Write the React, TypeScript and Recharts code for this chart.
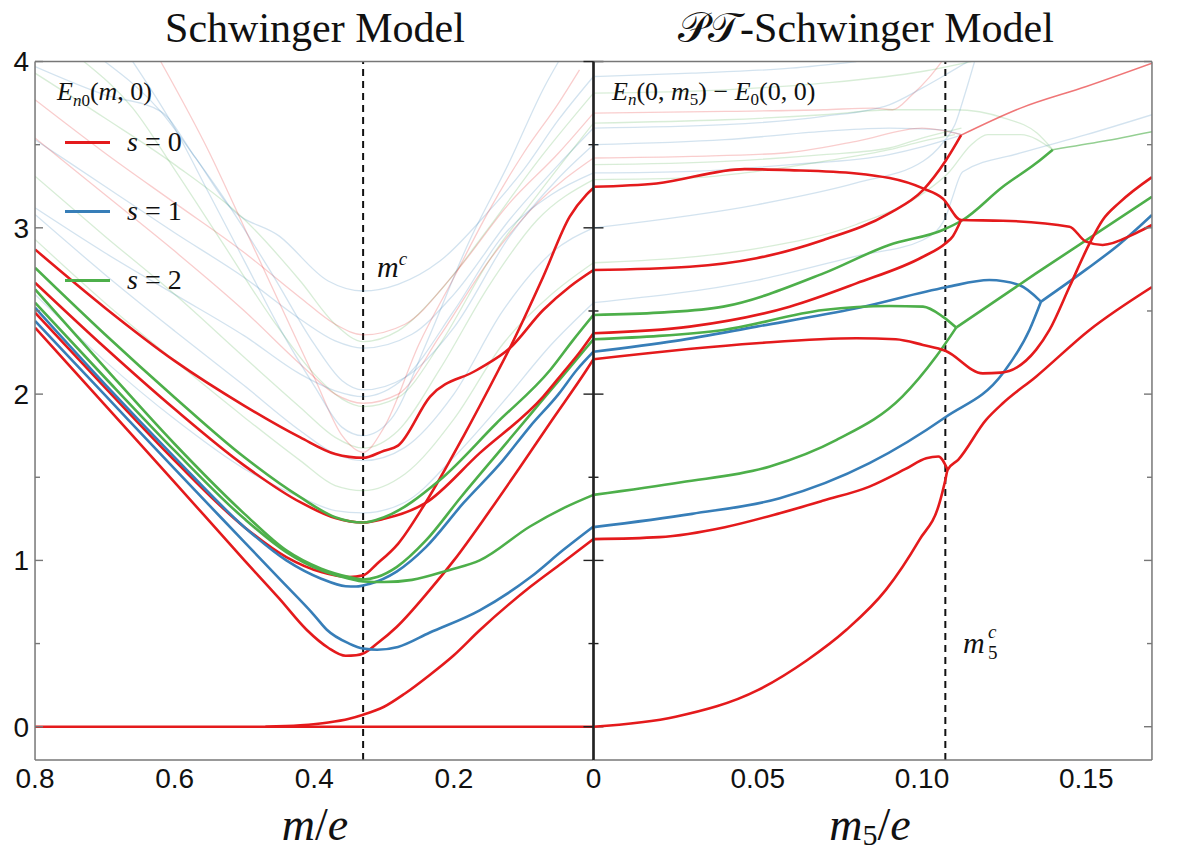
import React from "react";
import { LineChart, Line, XAxis, YAxis, ReferenceLine } from "recharts";

type Pt = [number, number];

// ---------- left panel: E_n0(m,0) vs m/e (axis runs 0.8 -> 0) ----------
const leftRedZero: Pt[] = [[0.8, 0], [0.4, 0], [0, 0]];
const leftRedBranch: Pt[] = [[0.47, 0.0], [0.42, 0.008], [0.38, 0.025], [0.35, 0.048], [0.33, 0.072], [0.3, 0.12], [0.27, 0.2], [0.235, 0.31], [0.2, 0.43], [0.163, 0.58], [0.09, 0.843], [0.045, 0.985], [0, 1.128]];
const leftRed1: Pt[] = [[0.8, 2.4], [0.7, 1.935], [0.6, 1.47], [0.5, 1.0], [0.45, 0.77], [0.411, 0.583], [0.38, 0.475], [0.355, 0.427], [0.34, 0.43], [0.33, 0.44], [0.31, 0.5], [0.282, 0.6], [0.235, 0.82], [0.2, 1.0], [0.15, 1.29], [0.108, 1.544], [0.06, 1.84], [0.01, 2.145], [0, 2.21]];
const leftBlue1: Pt[] = [[0.8, 2.44], [0.7, 1.995], [0.6, 1.55], [0.5, 1.11], [0.45, 0.89], [0.4, 0.67], [0.382, 0.583], [0.35, 0.5], [0.33, 0.47], [0.31, 0.463], [0.28, 0.48], [0.235, 0.565], [0.163, 0.7], [0.09, 0.9], [0.043, 1.064], [0, 1.204]];
const leftRed2: Pt[] = [[0.8, 2.49], [0.7, 2.04], [0.6, 1.6], [0.5, 1.2], [0.44, 1.02], [0.39, 0.93], [0.35, 0.9], [0.33, 0.91], [0.31, 0.98], [0.28, 1.1], [0.241, 1.344], [0.1865, 1.745], [0.136, 2.145], [0.12, 2.276], [0.072, 2.706], [0.034, 3.067], [0.01, 3.2], [0, 3.24]];
const leftBlue2: Pt[] = [[0.8, 2.52], [0.7, 2.06], [0.6, 1.62], [0.5, 1.2], [0.44, 1.0], [0.39, 0.89], [0.355, 0.845], [0.34, 0.843], [0.32, 0.86], [0.282, 0.933], [0.24, 1.08], [0.1865, 1.344], [0.13, 1.6], [0.091, 1.805], [0.05, 2.0], [0.024, 2.145], [0, 2.255]];
const leftGreen1: Pt[] = [[0.8, 2.55], [0.7, 2.1], [0.6, 1.66], [0.5, 1.25], [0.44, 1.05], [0.39, 0.94], [0.35, 0.89], [0.33, 0.873], [0.3, 0.87], [0.26, 0.883], [0.206, 0.943], [0.163, 1.0], [0.091, 1.204], [0.04, 1.32], [0, 1.394]];
const leftGreen2: Pt[] = [[0.8, 2.63], [0.7, 2.16], [0.6, 1.7], [0.5, 1.28], [0.44, 1.06], [0.39, 0.95], [0.35, 0.9], [0.33, 0.885], [0.31, 0.9], [0.282, 0.96], [0.24, 1.12], [0.19, 1.38], [0.13, 1.68], [0.09, 1.88], [0.05, 2.08], [0.02, 2.23], [0, 2.33]];
const leftRed3: Pt[] = [[0.8, 2.67], [0.7, 2.28], [0.6, 1.91], [0.5, 1.57], [0.42, 1.35], [0.37, 1.255], [0.33, 1.228], [0.3, 1.25], [0.241, 1.344], [0.163, 1.645], [0.072, 1.985], [0.044, 2.127], [0.02, 2.25], [0, 2.366]];
const leftGreen3: Pt[] = [[0.8, 2.76], [0.7, 2.36], [0.6, 1.98], [0.5, 1.62], [0.42, 1.38], [0.37, 1.26], [0.33, 1.228], [0.3, 1.26], [0.22, 1.484], [0.139, 1.825], [0.062, 2.145], [0.03, 2.32], [0, 2.476]];
const leftRed4: Pt[] = [[0.8, 2.87], [0.7, 2.52], [0.6, 2.2], [0.5, 1.93], [0.42, 1.74], [0.37, 1.64], [0.33, 1.617], [0.3, 1.66], [0.28, 1.69], [0.234, 1.985], [0.167, 2.145], [0.12, 2.276], [0.072, 2.506], [0.034, 2.646], [0, 2.746]];

// faint higher levels
const leftFaintB1: Pt[] = [[0.8, 3.97], [0.7, 3.8], [0.62, 3.7], [0.57, 3.42], [0.52, 3.12], [0.45, 2.95], [0.38, 2.68], [0.33, 2.62], [0.28, 2.66], [0.22, 2.8], [0.15, 3.1], [0.1, 3.35], [0.05, 3.65], [0, 3.91]];
const leftFaintG1: Pt[] = [[0.8, 3.93], [0.7, 3.66], [0.6, 3.38], [0.5, 3.05], [0.42, 2.68], [0.37, 2.42], [0.33, 2.316], [0.28, 2.38], [0.22, 2.62], [0.15, 3.0], [0.08, 3.4], [0, 3.81]];
const leftFaintR1: Pt[] = [[0.8, 3.77], [0.7, 3.45], [0.6, 3.15], [0.5, 2.85], [0.42, 2.58], [0.37, 2.42], [0.33, 2.356], [0.27, 2.42], [0.2, 2.72], [0.12, 3.15], [0.05, 3.45], [0, 3.69]];
const leftFaintB2: Pt[] = [[0.8, 3.53], [0.7, 3.25], [0.6, 2.97], [0.5, 2.7], [0.42, 2.45], [0.37, 2.32], [0.33, 2.277], [0.26, 2.36], [0.2, 2.6], [0.12, 3.05], [0.05, 3.38], [0, 3.6]];
const leftFaintG2: Pt[] = [[0.73, 4.0], [0.66, 3.72], [0.6, 3.35], [0.53, 2.9], [0.46, 2.45], [0.4, 2.12], [0.36, 1.97], [0.33, 1.925], [0.28, 1.98], [0.22, 2.3], [0.15, 2.8], [0.08, 3.2], [0, 3.63]];
const leftFaintB3: Pt[] = [[0.7, 4.0], [0.62, 3.7], [0.57, 3.42], [0.52, 3.12], [0.46, 2.72], [0.4, 2.3], [0.36, 2.08], [0.33, 2.025], [0.27, 2.1], [0.2, 2.4], [0.12, 2.95], [0.05, 3.3], [0, 3.5]];
const leftFaintR2: Pt[] = [[0.8, 3.54], [0.7, 3.2], [0.6, 2.86], [0.5, 2.5], [0.42, 2.18], [0.37, 2.0], [0.33, 1.945], [0.28, 2.0], [0.22, 2.35], [0.15, 2.8], [0.08, 3.15], [0, 3.42]];
const leftFaintB4: Pt[] = [[0.8, 3.12], [0.7, 2.85], [0.6, 2.6], [0.5, 2.35], [0.42, 2.12], [0.37, 2.02], [0.33, 1.985], [0.27, 2.1], [0.2, 2.5], [0.13, 2.95], [0.06, 3.2], [0, 3.33]];
const leftFaintG3: Pt[] = [[0.8, 3.31], [0.7, 2.95], [0.6, 2.6], [0.5, 2.22], [0.42, 1.92], [0.37, 1.74], [0.33, 1.675], [0.28, 1.78], [0.22, 2.15], [0.15, 2.65], [0.08, 3.05], [0, 3.29]];
const leftFaintB5: Pt[] = [[0.8, 3.08], [0.7, 2.72], [0.6, 2.38], [0.5, 2.05], [0.42, 1.78], [0.37, 1.64], [0.33, 1.6], [0.27, 1.68], [0.2, 2.0], [0.13, 2.5], [0.06, 2.85], [0, 3.0]];
const leftFaintR3: Pt[] = [[0.62, 4.0], [0.55, 3.45], [0.5, 3.0], [0.45, 2.55], [0.4, 2.1], [0.36, 1.75], [0.33, 1.65], [0.3, 1.8], [0.25, 2.3], [0.2, 2.7], [0.15, 3.1], [0.1, 3.45], [0.05, 3.75], [0.02, 3.95]];
const leftFaintG4: Pt[] = [[0.8, 2.93], [0.7, 2.55], [0.6, 2.2], [0.5, 1.86], [0.42, 1.6], [0.37, 1.45], [0.33, 1.42], [0.27, 1.52], [0.2, 1.85], [0.13, 2.3], [0.06, 2.6], [0, 2.79]];
const leftFaintB6: Pt[] = [[0.8, 2.6], [0.7, 2.2], [0.6, 1.85], [0.5, 1.55], [0.42, 1.38], [0.37, 1.3], [0.33, 1.286], [0.27, 1.35], [0.2, 1.62], [0.13, 1.95], [0.06, 2.3], [0, 2.55]];
const leftFaintB7: Pt[] = [[0.66, 4.0], [0.6, 3.6], [0.55, 3.2], [0.5, 2.8], [0.45, 2.4], [0.4, 2.05], [0.36, 1.8], [0.33, 1.75], [0.29, 1.85], [0.24, 2.3], [0.18, 2.9], [0.12, 3.4], [0.07, 3.85], [0.05, 4.0]];

// ---------- right panel: E_n(0,m5) - E_0(0,0) vs m5/e ----------
const rightRed0: Pt[] = [[0, 0], [0.025, 0.06], [0.05, 0.22], [0.065, 0.4], [0.077, 0.583], [0.089, 0.823], [0.0992, 1.124], [0.1053, 1.344], [0.1071, 1.484], [0.1078, 1.545], [0.111, 1.605], [0.1195, 1.845], [0.1246, 1.945], [0.1347, 2.105], [0.151, 2.386], [0.17, 2.644]];
const rightRed1: Pt[] = [[0, 1.128], [0.02, 1.14], [0.04, 1.2], [0.0567, 1.284], [0.07, 1.36], [0.084, 1.444], [0.095, 1.55], [0.1013, 1.615], [0.105, 1.625], [0.1078, 1.545]];
const rightBlue1: Pt[] = [[0, 1.2], [0.03, 1.28], [0.0567, 1.374], [0.084, 1.585], [0.1071, 1.861], [0.1246, 2.125], [0.1327, 2.386], [0.1362, 2.556]];
const rightBlue2: Pt[] = [[0, 2.255], [0.025, 2.32], [0.0496, 2.406], [0.08, 2.516], [0.1074, 2.643], [0.1205, 2.686], [0.1296, 2.656], [0.1362, 2.556]];
const rightBlueMerged: Pt[] = [[0.1362, 2.556], [0.15, 2.75], [0.16, 2.9], [0.17, 3.077]];
const rightGreen1: Pt[] = [[0, 1.394], [0.0267, 1.47], [0.0537, 1.565], [0.074, 1.725], [0.094, 1.985], [0.1043, 2.226], [0.1104, 2.4]];
const rightGreen2: Pt[] = [[0, 2.33], [0.02, 2.35], [0.0395, 2.386], [0.07, 2.506], [0.09, 2.53], [0.1003, 2.526], [0.1063, 2.466], [0.1104, 2.4]];
const rightGreenMerged: Pt[] = [[0.1104, 2.4], [0.1347, 2.726], [0.17, 3.187]];
const rightGreen3: Pt[] = [[0, 2.476], [0.02, 2.49], [0.0395, 2.526], [0.07, 2.726], [0.09, 2.897], [0.1063, 2.987], [0.1124, 3.047], [0.1246, 3.247], [0.1347, 3.388], [0.1398, 3.47]];
const rightGreen3Tail: Pt[] = [[0.1398, 3.47], [0.155, 3.52], [0.17, 3.578]];
const rightRed2: Pt[] = [[0, 2.21], [0.0496, 2.306], [0.08, 2.336], [0.092, 2.33], [0.1003, 2.296], [0.1071, 2.261], [0.1185, 2.125], [0.124, 2.129], [0.1347, 2.266], [0.1388, 2.386], [0.145, 2.65], [0.151, 2.906], [0.155, 3.047], [0.16, 3.15], [0.17, 3.305]];
const rightRed5: Pt[] = [[0, 2.366], [0.0293, 2.406], [0.0597, 2.526], [0.08, 2.666], [0.1003, 2.826], [0.1071, 2.906], [0.1094, 2.95], [0.1119, 3.047]];
const rightRed3: Pt[] = [[0, 3.247], [0.0192, 3.267], [0.046, 3.353], [0.0597, 3.347], [0.08, 3.327], [0.1003, 3.237], [0.1063, 3.177], [0.1119, 3.047], [0.1246, 3.043], [0.1449, 3.007], [0.1499, 2.917], [0.155, 2.897], [0.165, 2.967], [0.17, 3.017]];
const rightRed4: Pt[] = [[0, 2.746], [0.0293, 2.766], [0.0496, 2.817], [0.07, 2.927], [0.09, 3.087], [0.1003, 3.227], [0.1071, 3.4], [0.1119, 3.557]];
const rightRed4Tail: Pt[] = [[0.1119, 3.557], [0.13, 3.72], [0.15, 3.85], [0.17, 3.99]];

const rightFaintB1: Pt[] = [[0, 3.91], [0.03, 3.93], [0.06, 3.96], [0.08, 4.0]];
const rightFaintG1: Pt[] = [[0, 3.81], [0.04, 3.83], [0.07, 3.87], [0.1, 3.94], [0.115, 4.0]];
const rightFaintR1: Pt[] = [[0, 3.69], [0.04, 3.7], [0.07, 3.71], [0.085, 3.72], [0.091, 3.71], [0.097, 3.8], [0.102, 3.9], [0.106, 4.0]];
const rightFaintG2: Pt[] = [[0, 3.63], [0.04, 3.65], [0.07, 3.68], [0.091, 3.71], [0.11, 3.71], [0.125, 3.66], [0.135, 3.57], [0.1398, 3.47]];
const rightFaintB2: Pt[] = [[0, 3.6], [0.04, 3.62], [0.07, 3.67], [0.09, 3.74], [0.1, 3.84], [0.108, 3.93], [0.114, 4.0]];
const rightFaintB3: Pt[] = [[0, 3.5], [0.04, 3.53], [0.07, 3.58], [0.09, 3.6], [0.105, 3.59], [0.112, 3.56]];
const rightFaintR2: Pt[] = [[0, 3.42], [0.03, 3.43], [0.058, 3.45], [0.08, 3.52], [0.1, 3.6], [0.112, 3.56]];
const rightFaintG3: Pt[] = [[0, 3.38], [0.04, 3.4], [0.07, 3.44], [0.09, 3.48], [0.1, 3.54], [0.112, 3.6]];
const rightFaintB4: Pt[] = [[0, 3.33], [0.03, 3.34], [0.06, 3.38], [0.09, 3.44], [0.1003, 3.488], [0.112, 3.557]];
const rightFaintG4: Pt[] = [[0, 3.29], [0.03, 3.3], [0.046, 3.33], [0.07, 3.4], [0.09, 3.47], [0.1, 3.52], [0.11, 3.56]];
const rightFaintB5: Pt[] = [[0, 3.0], [0.05, 3.14], [0.08, 3.27], [0.1003, 3.4], [0.1063, 3.51], [0.11, 3.62], [0.113, 3.8], [0.116, 4.0]];
const rightFaintG5: Pt[] = [[0, 2.79], [0.05, 2.876], [0.08, 3.02], [0.1003, 3.207], [0.108, 3.33], [0.115, 3.5], [0.12, 3.56], [0.13, 3.56], [0.1398, 3.47]];
const rightFaintB6: Pt[] = [[0, 2.55], [0.05, 2.686], [0.08, 2.83], [0.1003, 2.927], [0.1071, 3.06], [0.109, 3.167], [0.1124, 3.337], [0.13, 3.45], [0.15, 3.56], [0.17, 3.68]];

// ---------- axis ticks ----------
const leftXTicks = [0, 0.2, 0.4, 0.6, 0.8];
const leftXInnerTicks = [0.2, 0.4, 0.6];
const rightXTicks = [0, 0.05, 0.1, 0.15];
const rightXInnerTicks = [0.05, 0.1, 0.15];
const rightXMinorTicks = [0.025, 0.075, 0.125];
const yTicks = [0, 1, 2, 3, 4];
const yMinorTicks = [0.5, 1.5, 2.5, 3.5];
const mCrit = 0.33;
const m5Crit = 0.1071;

const RED = "#e41a1c";
const BLUE = "#377eb8";
const GREEN = "#4daf4a";

type Series = { pts: Pt[]; color: string; faint?: boolean; thin?: boolean };

const leftSeries: Series[] = [
  { pts: leftFaintB1, color: BLUE, faint: true },
  { pts: leftFaintG1, color: GREEN, faint: true },
  { pts: leftFaintR1, color: RED, faint: true },
  { pts: leftFaintB2, color: BLUE, faint: true },
  { pts: leftFaintG2, color: GREEN, faint: true },
  { pts: leftFaintB3, color: BLUE, faint: true },
  { pts: leftFaintR2, color: RED, faint: true },
  { pts: leftFaintB4, color: BLUE, faint: true },
  { pts: leftFaintG3, color: GREEN, faint: true },
  { pts: leftFaintB5, color: BLUE, faint: true },
  { pts: leftFaintR3, color: RED, faint: true },
  { pts: leftFaintG4, color: GREEN, faint: true },
  { pts: leftFaintB6, color: BLUE, faint: true },
  { pts: leftFaintB7, color: BLUE, faint: true },
  { pts: leftRedZero, color: RED },
  { pts: leftRedBranch, color: RED },
  { pts: leftRed1, color: RED },
  { pts: leftBlue1, color: BLUE },
  { pts: leftRed2, color: RED },
  { pts: leftBlue2, color: BLUE },
  { pts: leftGreen1, color: GREEN },
  { pts: leftGreen2, color: GREEN },
  { pts: leftRed3, color: RED },
  { pts: leftGreen3, color: GREEN },
  { pts: leftRed4, color: RED },
];

const rightSeries: Series[] = [
  { pts: rightFaintB1, color: BLUE, faint: true },
  { pts: rightFaintG1, color: GREEN, faint: true },
  { pts: rightFaintR1, color: RED, faint: true },
  { pts: rightFaintG2, color: GREEN, faint: true },
  { pts: rightFaintB2, color: BLUE, faint: true },
  { pts: rightFaintB3, color: BLUE, faint: true },
  { pts: rightFaintR2, color: RED, faint: true },
  { pts: rightFaintG3, color: GREEN, faint: true },
  { pts: rightFaintB4, color: BLUE, faint: true },
  { pts: rightFaintG4, color: GREEN, faint: true },
  { pts: rightFaintB5, color: BLUE, faint: true },
  { pts: rightFaintG5, color: GREEN, faint: true },
  { pts: rightFaintB6, color: BLUE, faint: true },
  { pts: rightRed4Tail, color: RED, thin: true },
  { pts: rightGreen3Tail, color: GREEN, thin: true },
  { pts: rightRed0, color: RED },
  { pts: rightRed1, color: RED },
  { pts: rightBlue1, color: BLUE },
  { pts: rightBlue2, color: BLUE },
  { pts: rightBlueMerged, color: BLUE },
  { pts: rightGreen1, color: GREEN },
  { pts: rightGreen2, color: GREEN },
  { pts: rightGreenMerged, color: GREEN },
  { pts: rightGreen3, color: GREEN },
  { pts: rightRed2, color: RED },
  { pts: rightRed5, color: RED },
  { pts: rightRed3, color: RED },
  { pts: rightRed4, color: RED },
];

const W = 1178;
const H = 854;
const TOP = 61.5;
const BOTTOM = 94;
const MID = 593.5;
const THIN = 0.01; // axes need a non-zero size to be drawn

const tickFont = { fontSize: 28, fill: "#111", fontFamily: "'Liberation Sans', Arial, sans-serif" };
const FRAME = "#777";
const DARK = "#222";
const serif = "'Liberation Serif', 'DejaVu Serif', serif";

const toRows = (pts: Pt[]) => pts.map(([x, y]) => ({ x, y }));

const renderLines = (list: Series[], prefix: string) =>
  list.map((s, i) => (
    <Line
      key={prefix + i}
      data={toRows(s.pts)}
      dataKey="y"
      type="monotone"
      dot={false}
      activeDot={false}
      stroke={s.color}
      strokeOpacity={s.faint ? 0.22 : s.thin ? 0.6 : 1}
      strokeWidth={s.faint ? 1.3 : s.thin ? 1.5 : 2.6}
      isAnimationActive={false}
    />
  ));

// tick marks drawn by the axis' own tick renderer, at the axis coordinate of each tick
const mark = (dx0: number, dx1: number, dy0: number, dy1: number, color: string) => (p: any) => (
  <line x1={p.x + dx0} x2={p.x + dx1} y1={p.y + dy0} y2={p.y + dy1} stroke={color} strokeWidth={1.4} />
);

const yMarks = (id: string, side: "left" | "right", ticks: number[], dx0: number, dx1: number, color: string) => (
  <YAxis key={id} yAxisId={id} orientation={side} type="number" domain={[-0.2, 4]} allowDataOverflow ticks={ticks} interval={0} width={THIN} tickSize={0} tickMargin={0} tick={mark(dx0, dx1, 0, 0, color)} tickLine={false} axisLine={false} />
);

const xMarks = (id: string, side: "top" | "bottom", domain: [number, number], reversed: boolean, ticks: number[], len: number) => (
  <XAxis key={id} xAxisId={id} orientation={side} type="number" domain={domain} reversed={reversed} allowDataOverflow ticks={ticks} interval={0} height={THIN} tickSize={0} tickMargin={0} tick={mark(0, 0, 0, side === "bottom" ? -len : len, FRAME)} tickLine={false} axisLine={false} />
);

const SchwingerPanel = () => (
  <LineChart width={W} height={H} margin={{ top: TOP, right: W - MID, bottom: BOTTOM, left: 35 }} style={{ position: "absolute", left: 0, top: 0 }}>
    <XAxis
      dataKey="x"
      type="number"
      domain={[0, 0.8]}
      reversed
      allowDataOverflow
      ticks={leftXTicks}
      interval={0}
      height={THIN}
      tickSize={0}
      tickMargin={8}
      tick={tickFont}
      tickFormatter={(v: number) => (v === 0 ? "" : v.toFixed(1))}
      axisLine={{ stroke: FRAME, strokeWidth: 1.5 }}
      tickLine={false}
    />
    <XAxis xAxisId="frameTop" orientation="top" type="number" domain={[0, 0.8]} reversed height={THIN} ticks={[]} tick={false} tickLine={false} axisLine={{ stroke: FRAME, strokeWidth: 1.5 }} />
    {xMarks("bMaj", "bottom", [0, 0.8], true, leftXInnerTicks, 9)}
    {xMarks("tMaj", "top", [0, 0.8], true, leftXInnerTicks, 9)}
    <YAxis type="number" domain={[-0.2, 4]} allowDataOverflow ticks={yTicks} interval={0} width={THIN} tickSize={0} tickMargin={6} tick={tickFont} tickLine={false} axisLine={{ stroke: FRAME, strokeWidth: 1.5 }} />
    <YAxis yAxisId="center" orientation="right" type="number" domain={[-0.2, 4]} width={THIN} ticks={[]} tick={false} tickLine={false} axisLine={{ stroke: DARK, strokeWidth: 2.2 }} />
    {yMarks("lMaj", "left", yTicks, 0, 8, FRAME)}
    {yMarks("lMin", "left", yMinorTicks, 0, 5, FRAME)}
    {yMarks("cMaj", "right", yTicks, -10, 10, DARK)}
    {yMarks("cMin", "right", yMinorTicks, -5, 5, DARK)}
    <ReferenceLine x={mCrit} stroke="#111" strokeWidth={2} strokeDasharray="7 5" />
    {renderLines(leftSeries, "l")}
  </LineChart>
);

const PTPanel = () => (
  <LineChart width={W} height={H} margin={{ top: TOP, right: 26, bottom: BOTTOM, left: MID }} style={{ position: "absolute", left: 0, top: 0 }}>
    <XAxis
      dataKey="x"
      type="number"
      domain={[0, 0.17]}
      allowDataOverflow
      ticks={rightXTicks}
      interval={0}
      height={THIN}
      tickSize={0}
      tickMargin={8}
      tick={tickFont}
      tickFormatter={(v: number) => (v === 0 ? "0" : v.toFixed(2))}
      axisLine={{ stroke: FRAME, strokeWidth: 1.5 }}
      tickLine={false}
    />
    <XAxis xAxisId="frameTop" orientation="top" type="number" domain={[0, 0.17]} height={THIN} ticks={[]} tick={false} tickLine={false} axisLine={{ stroke: FRAME, strokeWidth: 1.5 }} />
    {xMarks("bMaj", "bottom", [0, 0.17], false, rightXInnerTicks, 9)}
    {xMarks("bMin", "bottom", [0, 0.17], false, rightXMinorTicks, 5)}
    {xMarks("tMaj", "top", [0, 0.17], false, rightXInnerTicks, 9)}
    {xMarks("tMin", "top", [0, 0.17], false, rightXMinorTicks, 5)}
    <YAxis type="number" domain={[-0.2, 4]} allowDataOverflow width={THIN} ticks={[]} tick={false} tickLine={false} axisLine={{ stroke: DARK, strokeWidth: 2.2 }} />
    <YAxis yAxisId="labels" orientation="right" type="number" domain={[-0.2, 4]} ticks={yTicks} interval={0} width={THIN} tickSize={0} tickMargin={5} tick={tickFont} tickLine={false} axisLine={{ stroke: FRAME, strokeWidth: 1.5 }} />
    {yMarks("rMaj", "right", yTicks, -8, 0, FRAME)}
    {yMarks("rMin", "right", yMinorTicks, -5, 0, FRAME)}
    <ReferenceLine x={m5Crit} stroke="#111" strokeWidth={2} strokeDasharray="7 5" />
    {renderLines(rightSeries, "r")}
  </LineChart>
);

const Abs = ({ x, y, size, children, center, w }: { x: number; y: number; size: number; children: React.ReactNode; center?: boolean; w?: number }) => (
  <div
    style={{
      position: "absolute",
      left: x,
      top: y,
      width: w,
      textAlign: center ? "center" : "left",
      fontFamily: serif,
      fontSize: size,
      lineHeight: 1,
      whiteSpace: "nowrap",
      color: "#111",
    }}
  >
    {children}
  </div>
);

const Sub = ({ children, size, dy }: { children: React.ReactNode; size: number; dy: number }) => (
  <span style={{ fontSize: size, position: "relative", top: dy }}>{children}</span>
);

const legendItems = [
  { label: "0", color: RED, y: 142 },
  { label: "1", color: BLUE, y: 211 },
  { label: "2", color: GREEN, y: 280 },
];

export default function App() {
  return (
    <div style={{ position: "absolute", left: 0, top: 0, width: W, height: H, background: "#fff", overflow: "hidden" }}>
      <SchwingerPanel />
      <PTPanel />
      <Abs x={15} y={7} w={600} size={42} center>
        Schwinger Model
      </Abs>
      <Abs x={566} y={7} w={600} size={42} center>
        𝒫𝒯-Schwinger Model
      </Abs>
      <Abs x={15} y={802} w={600} size={46} center>
        <i>m</i>/<i>e</i>
      </Abs>
      <Abs x={570} y={802} w={600} size={46} center>
        <i>m</i>
        <Sub size={30} dy={5}>5</Sub>/<i>e</i>
      </Abs>
      <Abs x={57} y={79} size={26}>
        <i>E</i>
        <Sub size={17} dy={6}>
          <i>n</i>0
        </Sub>
        (<i>m</i>, 0)
      </Abs>
      {legendItems.map((it) => (
        <React.Fragment key={it.label}>
          <div style={{ position: "absolute", left: 65, top: it.y - 1, width: 45, height: 2.6, background: it.color }} />
          <Abs x={127} y={it.y - 14} size={28}>
            <i>s</i> = {it.label}
          </Abs>
        </React.Fragment>
      ))}
      <Abs x={612} y={79} size={26}>
        <i>E</i>
        <Sub size={17} dy={5}>
          <i>n</i>
        </Sub>
        (0, <i>m</i>
        <Sub size={17} dy={5}>5</Sub>) − <i>E</i>
        <Sub size={17} dy={5}>0</Sub>(0, 0)
      </Abs>
      <Abs x={377} y={252} size={30}>
        <i>m</i>
        <Sub size={19} dy={-12}>
          <i>c</i>
        </Sub>
      </Abs>
      <Abs x={963} y={628} size={30}>
        <i>m</i>
      </Abs>
      <Abs x={988} y={622} size={19}>
        <i>c</i>
      </Abs>
      <Abs x={988} y={643} size={19}>
        5
      </Abs>
    </div>
  );
}
